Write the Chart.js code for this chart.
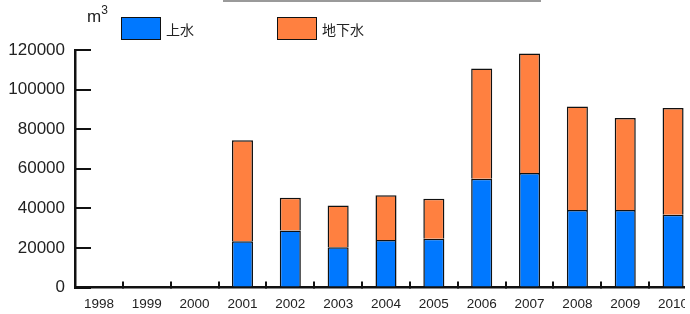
<!DOCTYPE html>
<html>
<head>
<meta charset="utf-8">
<script src="https://cdn.jsdelivr.net/npm/chart.js@4/dist/chart.umd.min.js"></script>
<style>
  html, body { margin: 0; padding: 0; background: #fff; overflow: hidden; }
  #page { position: relative; width: 690px; height: 314px; overflow: hidden; }
  #clip { position: absolute; left: 0; top: 0; width: 685px; height: 314px; overflow: hidden; }
  #wrap { position: absolute; left: 0; top: 0; width: 700px; height: 314px; }
  #topline { position: absolute; left: 223px; top: 0px; width: 318px; height: 2px; background: #9a9a9a; }
  #unit { position: absolute; left: 87px; top: 4px; font-family: "Liberation Sans", Arial, sans-serif; font-size: 17px; color: #222; }
  #unit sup { font-size: 12px; position: relative; top: -1px; }
  #legend { position: absolute; left: 121px; top: 17px; display: flex; }
  .item { display: flex; align-items: center; width: 156px; height: 23px; }
  .box { width: 38px; height: 21px; border: 1px solid #111; box-sizing: content-box; }
  .lbl { margin-left: 5px; font-family: "Noto Sans CJK JP", sans-serif; font-size: 14px; color: #222; line-height: 23px; position: relative; top: 1px; }
</style>
</head>
<body>
<div id="page">
  <div id="clip"><div id="wrap"><canvas id="c" width="700" height="314"></canvas></div></div>
  <div id="topline"></div>
  <div id="unit">m<sup>3</sup></div>
  <div id="legend"></div>
</div>
<script>
const years = ['1998','1999','2000','2001','2002','2003','2004','2005','2006','2007','2008','2009','2010'];
const josui = [null, null, null, 23400, 28800, 20300, 24000, 24600, 55000, 57900, 39100, 39200, 36700];
const chikasui = [null, null, null, 51000, 16500, 21100, 22600, 20200, 55700, 60300, 52300, 46400, 54000];
const seriesNames = ['上水', '地下水'];
const seriesColors = ['#0078FF', '#FF8040'];
const yTicks = [0, 20000, 40000, 60000, 80000, 100000, 120000];

const chart = new Chart(document.getElementById('c'), {
  type: 'bar',
  data: {
    labels: years,
    datasets: [
      { label: seriesNames[0], data: josui, backgroundColor: seriesColors[0], borderColor: '#111', borderWidth: 1.5 },
      { label: seriesNames[1], data: chikasui, backgroundColor: seriesColors[1], borderColor: '#111', borderWidth: 1.5 }
    ]
  },
  options: {
    responsive: false,
    animation: false,
    layout: { padding: { top: 50, left: 8, right: 3, bottom: 4 } },
    plugins: { legend: { display: false }, tooltip: { enabled: false } },
    datasets: { bar: { categoryPercentage: 1, barPercentage: 0.44 } },
    scales: {
      x: {
        stacked: true,
        afterFit: (s) => { s.height = 22.5; s.paddingLeft = 0; s.paddingRight = 0; },
        border: { display: true, color: '#111', width: 2.5 },
        grid: { display: true, drawOnChartArea: false, drawTicks: true, tickLength: -6, color: '#111', lineWidth: 2, offset: true },
        ticks: { padding: 15, color: '#222', font: { family: '"Liberation Sans", Arial, sans-serif', size: 13.5 }, maxRotation: 0, autoSkip: false }
      },
      y: {
        stacked: true,
        min: 0, max: 120000,
        afterBuildTicks: (s) => { s.ticks = yTicks.map(v => ({ value: v })); },
        afterFit: (s) => { s.width = 67; s.paddingTop = 0; s.paddingBottom = 0; },
        border: { display: true, color: '#111', width: 2.5 },
        grid: { display: true, drawOnChartArea: false, drawTicks: true, tickLength: -16, color: '#111', lineWidth: 2 },
        ticks: { padding: 26, color: '#222', font: { family: '"Liberation Sans", Arial, sans-serif', size: 17 }, callback: (v) => String(v) }
      }
    }
  }
});

const legend = document.getElementById('legend');
chart.data.datasets.forEach(ds => {
  const item = document.createElement('div');
  item.className = 'item';
  const box = document.createElement('div');
  box.className = 'box';
  box.style.background = ds.backgroundColor;
  const lbl = document.createElement('span');
  lbl.className = 'lbl';
  lbl.textContent = ds.label;
  item.appendChild(box);
  item.appendChild(lbl);
  legend.appendChild(item);
});
</script>
</body>
</html>
